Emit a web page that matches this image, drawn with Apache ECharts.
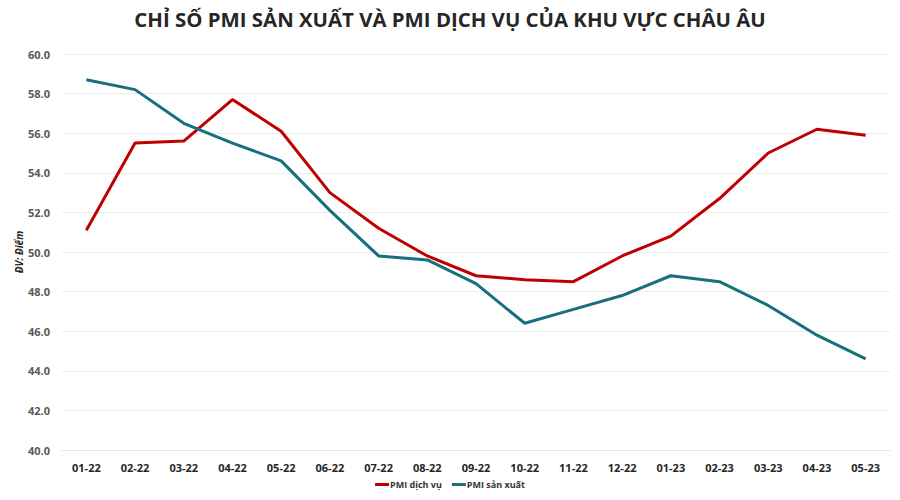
<!DOCTYPE html>
<html>
<head>
<meta charset="utf-8">
<script src="https://cdn.jsdelivr.net/npm/echarts@6/dist/echarts.min.js"></script>
<style>
  html, body { margin: 0; padding: 0; background: #fff; }
  #chart { width: 900px; height: 500px; }
</style>
</head>
<body>
<div id="chart"></div>
<script>
var months = ['01-22', '02-22', '03-22', '04-22', '05-22', '06-22', '07-22', '08-22', '09-22',
  '10-22', '11-22', '12-22', '01-23', '02-23', '03-23', '04-23', '05-23'];
var services = [51.1, 55.5, 55.6, 57.7, 56.1, 53.0, 51.2, 49.8, 48.8, 48.6, 48.5, 49.8, 50.8, 52.7, 55.0, 56.2, 55.9];
var manufacturing = [58.7, 58.2, 56.5, 55.5, 54.6, 52.1, 49.8, 49.6, 48.4, 46.4, 47.1, 47.8, 48.8, 48.5, 47.3, 45.8, 44.6];

var red = '#C00000';
var teal = '#17717C';
var font = '"Open Sans", "Noto Sans", sans-serif';

var chart = echarts.init(document.getElementById('chart'), null, { renderer: 'svg' });
chart.setOption({
  animation: false,
  textStyle: { fontFamily: font },
  title: {
    text: 'CHỈ SỐ PMI SẢN XUẤT VÀ PMI DỊCH VỤ CỦA KHU VỰC CHÂU ÂU',
    left: 'center',
    top: 4,
    textStyle: { fontFamily: font, fontSize: 20.4, fontWeight: 'bold', color: '#262626' }
  },
  legend: {
    bottom: 6,
    left: 'center',
    itemWidth: 14,
    itemHeight: 3,
    itemGap: 10,
    icon: 'rect',
    textStyle: { fontFamily: font, fontSize: 9, fontWeight: 'bold', color: '#333', padding: [0, 0, 0, -4] },
    data: ['PMI dịch vụ', 'PMI sản xuất']
  },
  grid: { left: 62, right: 10, top: 54, bottom: 50 },
  xAxis: {
    type: 'category',
    data: months,
    boundaryGap: true,
    axisLine: { show: true, lineStyle: { color: '#e6e6e6' } },
    axisTick: { show: false },
    axisLabel: { color: '#262626', fontSize: 11, fontWeight: 'bold', margin: 12, interval: 0 }
  },
  yAxis: {
    type: 'value',
    min: 40,
    max: 60,
    interval: 2,
    name: 'ĐV: Điểm',
    nameLocation: 'middle',
    nameGap: 38,
    nameMoveOverlap: false,
    nameRotate: 90,
    nameTextStyle: { fontFamily: font, fontSize: 10, fontWeight: 'bold', fontStyle: 'italic', color: '#262626' },
    axisLine: { show: false },
    axisTick: { show: false },
    axisLabel: {
      color: '#595959', fontSize: 11, fontWeight: 'bold', margin: 12,
      formatter: function (v) { return v.toFixed(1); }
    },
    splitLine: { lineStyle: { color: '#ececec', width: 1 } }
  },
  series: [
    {
      name: 'PMI dịch vụ',
      type: 'line',
      data: services,
      symbol: 'none',
      lineStyle: { color: red, width: 3 },
      itemStyle: { color: red }
    },
    {
      name: 'PMI sản xuất',
      type: 'line',
      data: manufacturing,
      symbol: 'none',
      lineStyle: { color: teal, width: 3 },
      itemStyle: { color: teal }
    }
  ]
});
window.addEventListener('resize', function () { chart.resize(); });
</script>
</body>
</html>
